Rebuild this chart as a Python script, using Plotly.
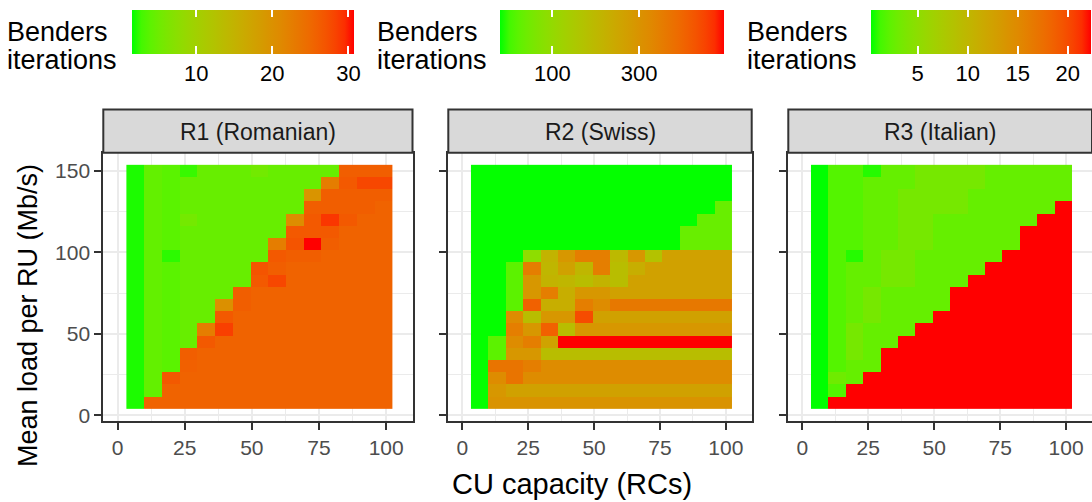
import math
import plotly.graph_objects as go

# ---------------- data ----------------
cu_capacity = [6.6, 13.2, 19.8, 26.4, 33.0, 39.6, 46.2, 52.8, 59.4, 66.0, 72.6, 79.2, 85.8, 92.4, 99.0]
mean_load = [7.5, 15, 22.5, 30, 37.5, 45, 52.5, 60, 67.5, 75, 82.5, 90, 97.5, 105, 112.5, 120, 127.5, 135, 142.5, 150]

panel_titles = ["R1 (Romanian)", "R2 (Swiss)", "R3 (Italian)"]

# Benders iterations, rows = mean load (bottom -> top), cols = CU capacity
iters_r1 = [
    [2, 25.5, 25.5, 25.5, 25.5, 25.5, 25.5, 25.5, 25.5, 25.5, 25.5, 25.5, 25.5, 25.5, 25.5],
    [2, 4.3, 25.5, 25.5, 25.5, 25.5, 25.5, 25.5, 25.5, 25.5, 25.5, 25.5, 25.5, 25.5, 25.5],
    [2, 4.3, 26.5, 25.5, 25.5, 25.5, 25.5, 25.5, 25.5, 25.5, 25.5, 25.5, 25.5, 25.5, 25.5],
    [2, 4.3, 3.8, 25.8, 25.5, 25.5, 25.5, 25.5, 25.5, 25.5, 25.5, 25.5, 25.5, 25.5, 25.5],
    [2, 4.3, 3.8, 26, 25.5, 25.5, 25.5, 25.5, 25.5, 25.5, 25.5, 25.5, 25.5, 25.5, 25.5],
    [2, 4.3, 3.8, 4.6, 26.5, 25.5, 25.5, 25.5, 25.5, 25.5, 25.5, 25.5, 25.5, 25.5, 25.5],
    [2, 4.3, 3.8, 4.6, 22.5, 28.5, 25.5, 25.5, 25.5, 25.5, 25.5, 25.5, 25.5, 25.5, 25.5],
    [2, 4.3, 3.8, 4.6, 4.6, 26.5, 25.5, 25.5, 25.5, 25.5, 25.5, 25.5, 25.5, 25.5, 25.5],
    [2, 4.3, 3.8, 4.6, 4.6, 20, 26, 25.5, 25.5, 25.5, 25.5, 25.5, 25.5, 25.5, 25.5],
    [2, 4.3, 3.8, 4.6, 4.6, 4.6, 26, 25.5, 25.5, 25.5, 25.5, 25.5, 25.5, 25.5, 25.5],
    [2, 4.3, 3.8, 4.6, 4.6, 4.6, 4.6, 26.5, 28, 25.5, 25.5, 25.5, 25.5, 25.5, 25.5],
    [2, 4.3, 3.8, 4.6, 4.6, 4.6, 4.6, 27, 26, 25.5, 25.5, 25.5, 25.5, 25.5, 25.5],
    [2, 4.3, 2.3, 4.6, 4.6, 4.6, 4.6, 4.6, 26.5, 26, 26, 25.5, 25.5, 25.5, 25.5],
    [2, 4.3, 3.8, 4.6, 4.6, 4.6, 4.6, 4.6, 22.5, 27, 30.7, 26, 25.5, 25.5, 25.5],
    [2, 4.3, 3.8, 4.6, 4.6, 4.6, 4.6, 4.6, 4.6, 26.5, 26.5, 26.5, 25.5, 25.5, 25.5],
    [2, 4.3, 3.8, 5.5, 4.6, 4.6, 4.6, 4.6, 4.6, 20.5, 26.5, 29, 26.5, 25.5, 25.5],
    [2, 4.3, 3.8, 4.6, 4.6, 4.6, 4.6, 4.6, 4.6, 4.6, 26, 26, 26, 26, 25.5],
    [2, 4.3, 3.8, 4.6, 4.6, 4.6, 4.6, 4.6, 4.6, 4.6, 19.5, 26, 26, 26, 26],
    [2, 4.3, 3.8, 4.6, 4.6, 4.6, 4.6, 4.6, 4.6, 4.6, 4.6, 22.5, 26.5, 28, 28],
    [2, 4.3, 3.8, 2.5, 4.6, 4.6, 4.6, 5.3, 4.6, 4.6, 4.6, 4.6, 26, 26, 26],
]

iters_r2 = [
    [52, 300, 300, 300, 300, 300, 300, 300, 300, 300, 300, 300, 300, 300, 300],
    [52, 285, 245, 245, 245, 245, 245, 245, 245, 245, 245, 245, 245, 245, 245],
    [52, 330, 440, 330, 330, 330, 330, 330, 330, 330, 330, 330, 330, 330, 330],
    [52, 440, 440, 395, 330, 330, 330, 330, 330, 330, 330, 330, 330, 330, 330],
    [52, 65, 285, 285, 160, 160, 160, 160, 160, 160, 160, 160, 160, 160, 160],
    [52, 65, 330, 395, 240, 877, 877, 877, 877, 877, 877, 877, 877, 877, 877],
    [52, 52, 395, 285, 540, 160, 285, 285, 285, 285, 285, 285, 285, 285, 285],
    [52, 52, 330, 160, 285, 285, 650, 245, 245, 245, 245, 245, 245, 245, 245],
    [52, 52, 65, 540, 205, 205, 395, 330, 420, 420, 420, 420, 420, 420, 420],
    [52, 52, 65, 285, 395, 205, 285, 285, 245, 245, 245, 245, 245, 245, 245],
    [52, 52, 65, 285, 190, 180, 160, 190, 160, 245, 245, 245, 245, 245, 245],
    [52, 52, 65, 395, 180, 245, 180, 395, 160, 205, 245, 245, 245, 245, 245],
    [52, 52, 52, 95, 190, 285, 395, 395, 170, 285, 150, 245, 245, 245, 245],
    [52, 52, 52, 52, 52, 52, 52, 52, 52, 52, 52, 52, 70, 70, 70],
    [52, 52, 52, 52, 52, 52, 52, 52, 52, 52, 52, 52, 70, 70, 70],
    [52, 52, 52, 52, 52, 52, 52, 52, 52, 52, 52, 52, 52, 70, 70],
    [52, 52, 52, 52, 52, 52, 52, 52, 52, 52, 52, 52, 52, 52, 70],
    [52, 52, 52, 52, 52, 52, 52, 52, 52, 52, 52, 52, 52, 52, 52],
    [52, 52, 52, 52, 52, 52, 52, 52, 52, 52, 52, 52, 52, 52, 52],
    [52, 52, 52, 52, 52, 52, 52, 52, 52, 52, 52, 52, 52, 52, 52],
]

iters_r3 = [
    [0.3, 22.3, 22.3, 22.3, 22.3, 22.3, 22.3, 22.3, 22.3, 22.3, 22.3, 22.3, 22.3, 22.3, 22.3],
    [0.3, 1.8, 22.3, 22.3, 22.3, 22.3, 22.3, 22.3, 22.3, 22.3, 22.3, 22.3, 22.3, 22.3, 22.3],
    [0.3, 3.0, 2.5, 22.3, 22.3, 22.3, 22.3, 22.3, 22.3, 22.3, 22.3, 22.3, 22.3, 22.3, 22.3],
    [0.3, 1.8, 2.5, 2.5, 22.3, 22.3, 22.3, 22.3, 22.3, 22.3, 22.3, 22.3, 22.3, 22.3, 22.3],
    [0.3, 1.8, 3.4, 2.5, 22.3, 22.3, 22.3, 22.3, 22.3, 22.3, 22.3, 22.3, 22.3, 22.3, 22.3],
    [0.3, 1.8, 3.4, 2.5, 2.5, 22.3, 22.3, 22.3, 22.3, 22.3, 22.3, 22.3, 22.3, 22.3, 22.3],
    [0.3, 1.8, 3.4, 2.5, 2.5, 2.5, 22.3, 22.3, 22.3, 22.3, 22.3, 22.3, 22.3, 22.3, 22.3],
    [0.3, 1.8, 2.5, 3.4, 2.5, 2.5, 2.5, 22.3, 22.3, 22.3, 22.3, 22.3, 22.3, 22.3, 22.3],
    [0.3, 1.8, 2.5, 3.4, 2.5, 2.5, 2.5, 2.5, 22.3, 22.3, 22.3, 22.3, 22.3, 22.3, 22.3],
    [0.3, 1.8, 2.5, 3.4, 2.5, 2.5, 2.5, 2.5, 22.3, 22.3, 22.3, 22.3, 22.3, 22.3, 22.3],
    [0.3, 1.8, 2.5, 2.5, 3.4, 3.4, 2.5, 2.5, 2.5, 22.3, 22.3, 22.3, 22.3, 22.3, 22.3],
    [0.3, 1.8, 2.5, 2.5, 3.4, 3.4, 2.5, 2.5, 2.5, 2.5, 22.3, 22.3, 22.3, 22.3, 22.3],
    [0.3, 1.8, 0.8, 2.5, 3.4, 3.4, 2.5, 2.5, 2.5, 2.5, 2.5, 22.3, 22.3, 22.3, 22.3],
    [0.3, 1.8, 1.8, 2.5, 2.5, 3.4, 3.4, 2.5, 2.5, 2.5, 2.5, 2.5, 22.3, 22.3, 22.3],
    [0.3, 1.8, 1.8, 2.5, 2.5, 3.4, 3.4, 2.5, 2.5, 2.5, 2.5, 2.5, 22.3, 22.3, 22.3],
    [0.3, 1.8, 1.8, 2.5, 2.5, 3.4, 3.4, 2.5, 2.5, 2.5, 2.5, 2.5, 2.5, 22.3, 22.3],
    [0.3, 1.8, 1.8, 2.5, 2.5, 3.4, 3.4, 3.4, 3.4, 2.5, 2.5, 2.5, 2.5, 2.5, 22.3],
    [0.3, 1.8, 1.8, 2.5, 2.5, 3.4, 3.4, 3.4, 3.4, 2.5, 2.5, 2.5, 2.5, 2.5, 2.5],
    [0.3, 1.8, 1.8, 2.5, 2.5, 2.5, 3.4, 3.4, 3.4, 3.4, 2.5, 2.5, 2.5, 2.5, 2.5],
    [0.3, 1.8, 1.8, 0.8, 2.5, 2.5, 3.4, 3.4, 3.4, 3.4, 2.5, 2.5, 2.5, 2.5, 2.5],
]

# colour-scale limits (as read from the legends)
limits_r1 = [1.5, 30.7]
limits_r2 = [51.6, 877]      # log10 scale
limits_r3 = [0.3, 22.3]
ticks_r1 = [10, 20, 30]
ticks_r2 = [100, 300]
ticks_r3 = [5, 10, 15, 20]

# ---------------- colour scale: Lab interpolation green -> red ----------------
def _lin(c):
    c = c / 255.0
    return c / 12.92 if c <= 0.04045 else ((c + 0.055) / 1.055) ** 2.4

def _gam(c):
    c = 12.92 * c if c <= 0.0031308 else 1.055 * c ** (1 / 2.4) - 0.055
    return max(0, min(255, round(c * 255)))

WHITE = (0.95047, 1.0, 1.08883)

def rgb2lab(rgb):
    r, g, b = [_lin(v) for v in rgb]
    X = 0.4124564 * r + 0.3575761 * g + 0.1804375 * b
    Y = 0.2126729 * r + 0.7151522 * g + 0.0721750 * b
    Z = 0.0193339 * r + 0.1191920 * g + 0.9503041 * b
    def f(t):
        return t ** (1 / 3) if t > 0.008856 else 7.787 * t + 16 / 116
    fx, fy, fz = f(X / WHITE[0]), f(Y / WHITE[1]), f(Z / WHITE[2])
    return (116 * fy - 16, 500 * (fx - fy), 200 * (fy - fz))

def lab2rgb(lab):
    L, a, b = lab
    fy = (L + 16) / 116
    fx = fy + a / 500
    fz = fy - b / 200
    def finv(t):
        return t ** 3 if t ** 3 > 0.008856 else (t - 16 / 116) / 7.787
    X, Y, Z = finv(fx) * WHITE[0], finv(fy) * WHITE[1], finv(fz) * WHITE[2]
    r = 3.2404542 * X - 1.5371385 * Y - 0.4985314 * Z
    g = -0.9692660 * X + 1.8760108 * Y + 0.0415560 * Z
    bb = 0.0556434 * X - 0.2040259 * Y + 1.0572252 * Z
    return "rgb(%d,%d,%d)" % (_gam(max(0, r)), _gam(max(0, g)), _gam(max(0, bb)))

lab_lo = rgb2lab((0, 255, 0))
lab_hi = rgb2lab((255, 0, 0))
colorscale = []
N = 24
for i in range(N + 1):
    t = i / N
    colorscale.append([t, lab2rgb(tuple(lab_lo[k] + (lab_hi[k] - lab_lo[k]) * t for k in range(3)))])

# ---------------- figure ----------------
W, H = 1092, 502
FONT = "Liberation Sans, Arial, sans-serif"

def px(x):
    return x / W

def py(y):
    return 1 - y / H

panel_x = [(103.3, 412.5), (448.3, 751.7), (788.3, 1092.0)]
panel_top, panel_bot = 152.7, 420.7
strip_top = 109.5
bar_top, bar_bot = 10.0, 54.0

fig = go.Figure()

log_r2 = [[math.log10(v) for v in row] for row in iters_r2]
zs = [iters_r1, log_r2, iters_r3]

cbar_specs = [
    dict(x0=131.7, x1=353.3, lim=limits_r1, tv=ticks_r1, tt=[str(t) for t in ticks_r1]),
    dict(x0=500.0, x1=724.3, lim=[math.log10(v) for v in limits_r2],
         tv=[math.log10(t) for t in ticks_r2], tt=[str(t) for t in ticks_r2]),
    dict(x0=870.7, x1=1091.0, lim=limits_r3, tv=ticks_r3, tt=[str(t) for t in ticks_r3]),
]

for i in range(3):
    suffix = "" if i == 0 else str(i + 1)
    fig.add_trace(go.Heatmap(
        x=cu_capacity, y=mean_load, z=zs[i],
        coloraxis="coloraxis" + suffix,
        xaxis="x" + suffix, yaxis="y" + suffix,
        hoverinfo="skip",
    ))
    cb = cbar_specs[i]
    fig.layout["coloraxis" + suffix] = dict(
        colorscale=colorscale, cmin=cb["lim"][0], cmax=cb["lim"][1],
        colorbar=dict(
            orientation="h", x=px(cb["x0"]), xanchor="left", y=py(bar_top), yanchor="top",
            lenmode="pixels", len=cb["x1"] - cb["x0"], thickness=bar_bot - bar_top,
            xpad=0, ypad=0, outlinewidth=0,
            tickvals=cb["tv"], ticktext=cb["tt"],
            ticks="inside", ticklen=0, tickcolor="white",
            tickfont=dict(family=FONT, size=22, color="#000000"),
        ),
    )
    # white tick marks at both edges of the colour bar (ggplot style)
    lo, hi = cb["lim"]
    for v in cb["tv"]:
        xt = cb["x0"] + (v - lo) / (hi - lo) * (cb["x1"] - cb["x0"])
        for (ya, yb) in [(bar_top, bar_top + 7), (bar_bot - 8, bar_bot)]:
            fig.add_annotation(x=px(xt), y=py((ya + yb) / 2), xref="paper", yref="paper",
                               text=" ", showarrow=False, width=1.5, height=yb - ya,
                               bgcolor="white", borderpad=0, borderwidth=0,
                               xanchor="center", yanchor="middle", font=dict(size=1))

    x0, x1 = panel_x[i]
    fig.layout["xaxis" + suffix] = dict(
        domain=[px(x0), px(x1)], range=[-5.3, 109.8], anchor="y" + suffix,
        tickvals=[0, 25, 50, 75, 100], ticks="outside", ticklen=7, tickwidth=2,
        tickcolor="#333333", showline=True, mirror=True, linecolor="#333333", linewidth=2,
        showgrid=True, gridcolor="#ebebeb", gridwidth=2, zeroline=False,
        minor=dict(tickvals=[12.5, 37.5, 62.5, 87.5], showgrid=True, gridcolor="#ebebeb", gridwidth=1),
        tickfont=dict(family=FONT, size=21, color="#4d4d4d"),
    )
    fig.layout["yaxis" + suffix] = dict(
        domain=[py(panel_bot), py(panel_top)], range=[-3.3, 161.2], anchor="x" + suffix,
        tickvals=[0, 50, 100, 150], ticks="outside", ticklen=7, tickwidth=2,
        tickcolor="#333333", showline=True, mirror=True, linecolor="#333333", linewidth=2,
        showgrid=True, gridcolor="#ebebeb", gridwidth=2, zeroline=False,
        minor=dict(tickvals=[25, 75, 125], showgrid=True, gridcolor="#ebebeb", gridwidth=1),
        showticklabels=(i == 0),
        tickfont=dict(family=FONT, size=21, color="#4d4d4d"),
    )
    # facet strip
    fig.add_shape(type="rect", xref="paper", yref="paper",
                  x0=px(x0), x1=px(x1), y0=py(panel_top), y1=py(strip_top),
                  fillcolor="#d9d9d9", line=dict(color="#333333", width=2), layer="above")
    fig.add_annotation(x=px((x0 + x1) / 2), y=py((panel_top + strip_top) / 2 + 1), xref="paper", yref="paper",
                       text=panel_titles[i], showarrow=False, xanchor="center", yanchor="middle",
                       font=dict(family=FONT, size=23, color="#1a1a1a"))

# legend titles
for xt in [5, 375, 745]:
    fig.add_annotation(x=px(xt), y=py(32), xref="paper", yref="paper",
                       text="Benders", showarrow=False, xanchor="left", yanchor="middle",
                       font=dict(family=FONT, size=27, color="#000000"))
    fig.add_annotation(x=px(xt), y=py(60), xref="paper", yref="paper",
                       text="iterations", showarrow=False, xanchor="left", yanchor="middle",
                       font=dict(family=FONT, size=27, color="#000000"))

# axis titles
fig.add_annotation(x=px(572), y=py(484), xref="paper", yref="paper", text="CU capacity (RCs)",
                   showarrow=False, xanchor="center", yanchor="middle",
                   font=dict(family=FONT, size=29, color="#000000"))
fig.add_annotation(x=px(28), y=py(316), xref="paper", yref="paper", text="Mean load per RU (Mb/s)",
                   showarrow=False, xanchor="center", yanchor="middle", textangle=-90,
                   font=dict(family=FONT, size=27, color="#000000"))

fig.update_layout(
    template="none",
    width=W, height=H,
    margin=dict(l=0, r=0, t=0, b=0, autoexpand=False),
    paper_bgcolor="white", plot_bgcolor="white",
    showlegend=False,
    font=dict(family=FONT),
)

fig.write_html("out.html", include_plotlyjs=True, config={"displayModeBar": False})
